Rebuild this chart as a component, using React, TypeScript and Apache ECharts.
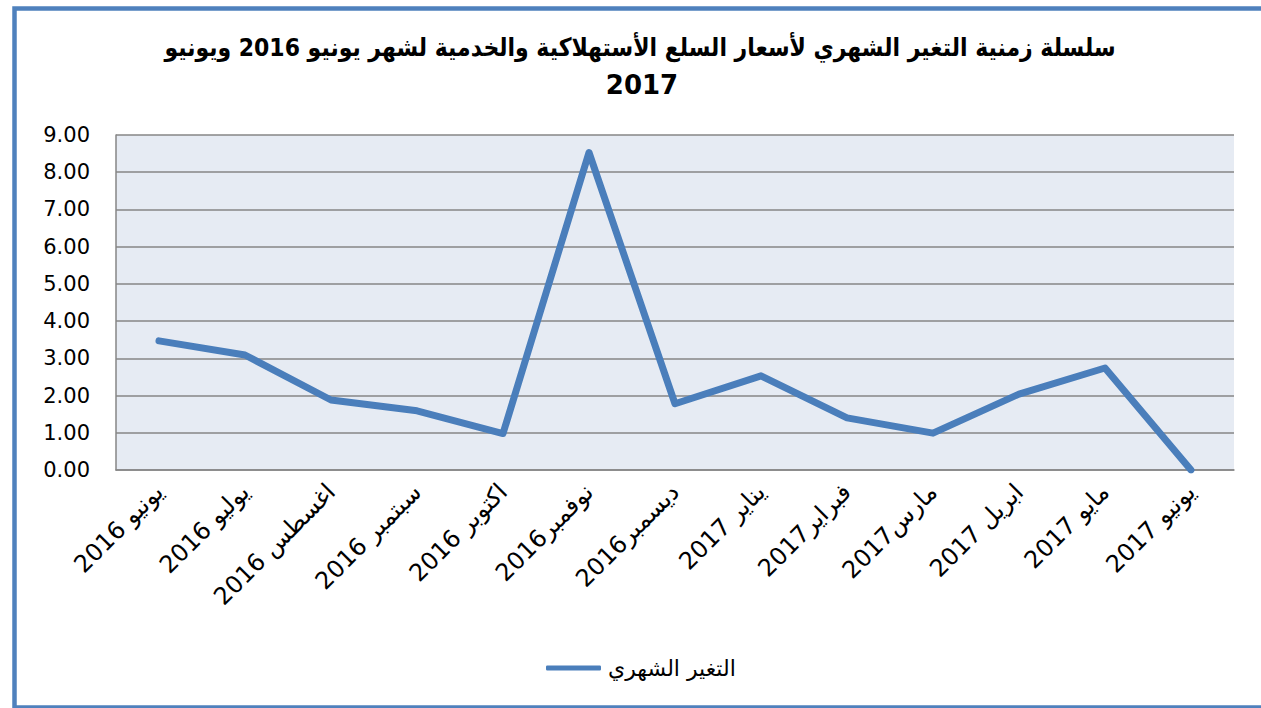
import React, { useEffect, useRef } from "react";
import * as echarts from "echarts";

const categories = [
  "يونيو 2016",
  "يوليو 2016",
  "اغسطس 2016",
  "سبتمبر 2016",
  "اكتوبر 2016",
  "نوفمبر2016",
  "ديسمبر2016",
  "يناير 2017",
  "فبراير2017",
  "مارس2017",
  "ابريل 2017",
  "مايو 2017",
  "يونيو 2017",
];
const monthlyChange = [3.47, 3.09, 1.88, 1.59, 0.98, 8.53, 1.78, 2.53, 1.4, 0.99, 2.04, 2.74, 0.0];
const seriesName = "التغير الشهري";
const titleLine1 = "سلسلة زمنية التغير الشهري لأسعار السلع الأستهلاكية والخدمية لشهر يونيو 2016 ويونيو";
const titleLine2 = "2017";

const FONT = "DejaVu Sans";

export default function App() {
  const ref = useRef<HTMLDivElement>(null);
  useEffect(() => {
    if (!ref.current) return;
    const chart = echarts.init(ref.current, undefined, { renderer: "svg" });
    chart.setOption({
      animation: false,
      backgroundColor: "#ffffff",
      graphic: [
        {
          type: "rect",
          shape: { x: 14.5, y: 8.5, width: 1260, height: 699 },
          style: { fill: "none", stroke: "#4f81bd", lineWidth: 4.5 },
          silent: true,
          z: 100,
        },
        {
          type: "text",
          x: 640,
          y: 47,
          scaleY: 1.15,
          silent: true,
          style: {
            text: titleLine1,
            fill: "#000",
            font: `bold 22px "${FONT}"`,
            align: "center",
            verticalAlign: "middle",
          },
        },
        {
          type: "text",
          x: 642,
          y: 85,
          silent: true,
          style: {
            text: titleLine2,
            fill: "#000",
            font: `bold 26px "${FONT}"`,
            align: "center",
            verticalAlign: "middle",
          },
        },
      ],
      grid: {
        left: 116,
        right: 27,
        top: 135,
        bottom: 238,
        show: true,
        backgroundColor: "#e6ebf3",
        borderWidth: 0,
        outerBoundsMode: "none",
      },
      legend: {
        data: [seriesName],
        left: 541,
        top: 652,
        icon: "roundRect",
        itemWidth: 55,
        itemHeight: 5,
        itemGap: 10,
        textStyle: { fontFamily: FONT, fontSize: 22, color: "#000", padding: [0, 0, 0, 2] },
      },
      xAxis: {
        type: "category",
        data: categories,
        boundaryGap: true,
        axisLine: { show: true, lineStyle: { color: "#868686", width: 1.5 } },
        axisTick: { show: false },
        axisLabel: {
          rotate: 45,
          interval: 0,
          margin: 18,
          fontFamily: FONT,
          fontSize: 24,
          color: "#000",
        },
      },
      yAxis: {
        type: "value",
        min: 0,
        max: 9,
        interval: 1,
        axisLine: { show: true, lineStyle: { color: "#868686", width: 1.5 } },
        axisTick: { show: false },
        splitLine: { show: true, lineStyle: { color: "#868686", width: 1.5 } },
        axisLabel: {
          formatter: (v: number) => v.toFixed(2),
          margin: 26,
          align: "right",
          fontFamily: FONT,
          fontSize: 21,
          color: "#000",
        },
      },
      series: [
        {
          name: seriesName,
          type: "line",
          data: monthlyChange,
          showSymbol: false,
          symbol: "none",
          lineStyle: { color: "#4a7ebb", width: 7, cap: "round", join: "round" },
          itemStyle: { color: "#4a7ebb" },
        },
      ],
    });
    return () => chart.dispose();
  }, []);
  return (
    <div
      ref={ref}
      style={{ position: "fixed", left: 0, top: 0, width: 1261, height: 708 }}
    />
  );
}
